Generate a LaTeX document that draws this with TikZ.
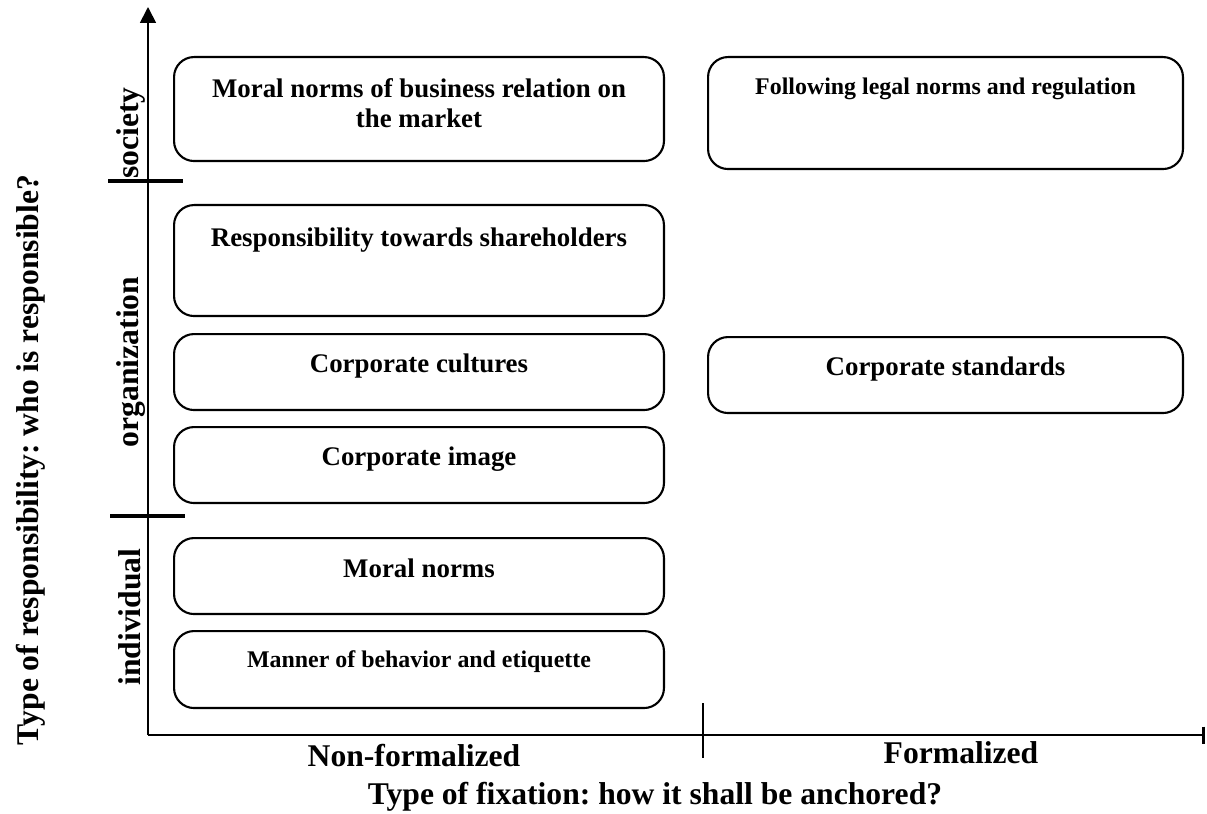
\documentclass[tikz,border=0pt]{standalone}
\usepackage{fontspec}
\setmainfont{Liberation Serif}
\usetikzlibrary{arrows.meta}
\frenchspacing

\begin{document}
\begin{tikzpicture}[x=0.02cm,y=-0.02cm,
	cell/.style={draw, line width=1.2pt, rounded corners=0.4cm, anchor=north west, inner sep=0pt},
	celltext/.style={anchor=base, inner sep=0pt, align=center, font=\fontsize{15.3}{17.6}\selectfont\bfseries},
	smalltext/.style={celltext, font=\fontsize{13.6}{16}\selectfont\bfseries},
	axistext/.style={anchor=base, inner sep=0pt, font=\fontsize{18}{21}\selectfont\bfseries}]
				%%%%% START %%%%%
				\def\colL{173}
				\def\colR{707}
				\def\wL{9.8cm}
				\def\wR{9.5cm}
				\def\dtxt{0.82cm}
				\def\ax{148}
				\def\ay{735}
				
				\useasboundingbox (0,0) rectangle (1207,814);
				
				% axes
				\coordinate (origin) at (\ax,\ay);
				\coordinate (ytop) at (\ax,7);
				\coordinate (xend) at (1205,\ay);
				\draw[line width=1pt, -{Triangle[length=0.32cm,width=0.32cm]}] (origin) -- (ytop);
				\draw[line width=1.6pt, -{Bar[width=0.34cm]}] (origin) -- (xend);
				\draw[line width=1.6pt] (703,703) -- (703,758);
				\draw[line width=2.4pt] (108,181) -- (183,181);
				\draw[line width=2.4pt] (110,516) -- (185,516);
				
				% boxes
				\node[cell, minimum width=\wL, minimum height=2.08cm] (market) at (\colL,56) {};
				\node[cell, minimum width=\wR, minimum height=2.24cm] (legal) at (\colR,56) {};
				\node[cell, minimum width=\wL, minimum height=2.22cm] (shareholders) at (\colL,204) {};
				\node[cell, minimum width=\wL, minimum height=1.52cm] (cultures) at (\colL,333) {};
				\node[cell, minimum width=\wR, minimum height=1.52cm] (standards) at (\colR,336) {};
				\node[cell, minimum width=\wL, minimum height=1.52cm] (image) at (\colL,426) {};
				\node[cell, minimum width=\wL, minimum height=1.52cm] (norms) at (\colL,537) {};
				\node[cell, minimum width=\wL, minimum height=1.54cm] (manner) at (\colL,630) {};
				
				% base of two-line text is its last line
				\node[celltext] (tmarket) at ([yshift=-1.44cm]market.north) {Moral norms of business relation on\\the market};
				\node[smalltext] (tlegal) at ([yshift=-0.78cm]legal.north) {Following legal norms and regulation};
				\node[celltext] (tshareholders) at ([yshift=-0.86cm]shareholders.north) {Responsibility towards shareholders};
				\node[celltext] (tcultures) at ([yshift=-0.8cm]cultures.north) {Corporate cultures};
				\node[celltext] (tstandards) at ([yshift=-0.8cm]standards.north) {Corporate standards};
				\node[celltext] (timage) at ([yshift=-0.8cm]image.north) {Corporate image};
				\node[celltext] (tnorms) at ([yshift=-\dtxt]norms.north) {Moral norms};
				\node[smalltext] (tmanner) at ([yshift=-0.76cm]manner.north) {Manner of behavior and etiquette};
				
				% axis labels
				\node[axistext, rotate=90] (society) at (138,133) {society};
				\node[axistext, rotate=90] (organization) at (138,362) {organization};
				\node[axistext, rotate=90] (individual) at (140,617) {individual};
				\node[axistext, rotate=90] (who) at (38,460) {Type of responsibility: who is responsible?};
				
				\node[axistext] (nonformal) at (414,766) {Non-formalized};
				\node[axistext] (formal) at (961,763) {Formalized};
				\node[axistext] (fixation) at (655,804) {Type of fixation: how it shall be anchored?};
				%%%%% END %%%%%
\end{tikzpicture}
\end{document}
